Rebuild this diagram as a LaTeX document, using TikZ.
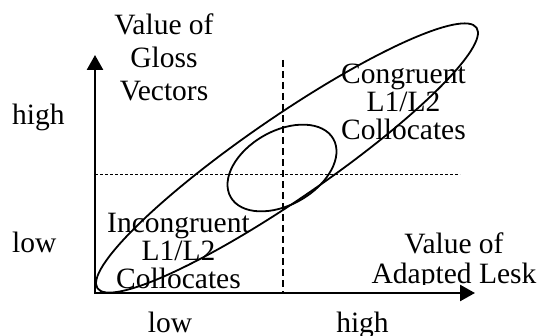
\documentclass[tikz,border=0pt]{standalone}
\usepackage{fontspec}
\setmainfont{Liberation Serif}
\usetikzlibrary{arrows.meta}
\begin{document}
\begin{tikzpicture}[x=1pt,y=1pt,
  lbl/.style={inner sep=0pt, anchor=base, align=center, font=\fontsize{29.5}{28}\selectfont},
  lblwide/.style={lbl, font=\fontsize{29.5}{33}\selectfont},
  lblmid/.style={lbl, font=\fontsize{29.5}{30}\selectfont},
  side/.style={inner sep=0pt, anchor=base west, font=\fontsize{29.5}{30}\selectfont},
  tick/.style={inner sep=0pt, anchor=base, font=\fontsize{29.5}{30}\selectfont},
  axis/.style={line width=2.6pt, {Triangle[length=15pt,width=16pt]}-{Triangle[length=15pt,width=16pt]}},
  oval/.style={line width=1.8pt},
  divider/.style={line width=2pt, dash pattern=on 7pt off 4pt},
  guide/.style={line width=0.9pt, dash pattern=on 3pt off 2pt}]
\useasboundingbox (0,0) rectangle (537,335);
% labels (anchor=base is the baseline of the last line)
\node[lblwide] (yname) at (164,234) {Value of\\Gloss\\Vectors};
\node[lbl] (cong) at (403.5,196) {Congruent\\L1/L2\\Collocates};
\node[lbl] (incong) at (178.5,47) {Incongruent\\L1/L2\\Collocates};
\begin{scope}
\clip (340,50.5) rectangle (537,335);
\node[lblmid] (xname) at (454,52) {Value of\\Adapted Lesk};
\end{scope}
\node[side] (yhigh) at (12,210) {high};
\node[side] (ylow) at (12,83) {low};
\node[tick] (xlow) at (170,3) {low};
\node[tick] (xhigh) at (362.5,3) {high};
% axes
\coordinate (o) at (95,42);
\coordinate (ytip) at (95,280);
\coordinate (xtip) at (475,42);
\draw[axis] (ytip) -- (o) -- (xtip);
% guides
\coordinate (dtop) at (282.5,275);
\coordinate (dbot) at (282.5,42);
\draw[divider] (dtop) -- (dbot);
\coordinate (hl) at (95,161);
\coordinate (hr) at (460,161);
\draw[guide] (hl) -- (hr);
% ellipses
\draw[oval, rotate around={34.5:(287,177)}] (287,177) ellipse [x radius=230, y radius=41];
\draw[oval, rotate around={29.5:(282,167)}] (282,167) ellipse [x radius=59, y radius=37];
\end{tikzpicture}
\end{document}
